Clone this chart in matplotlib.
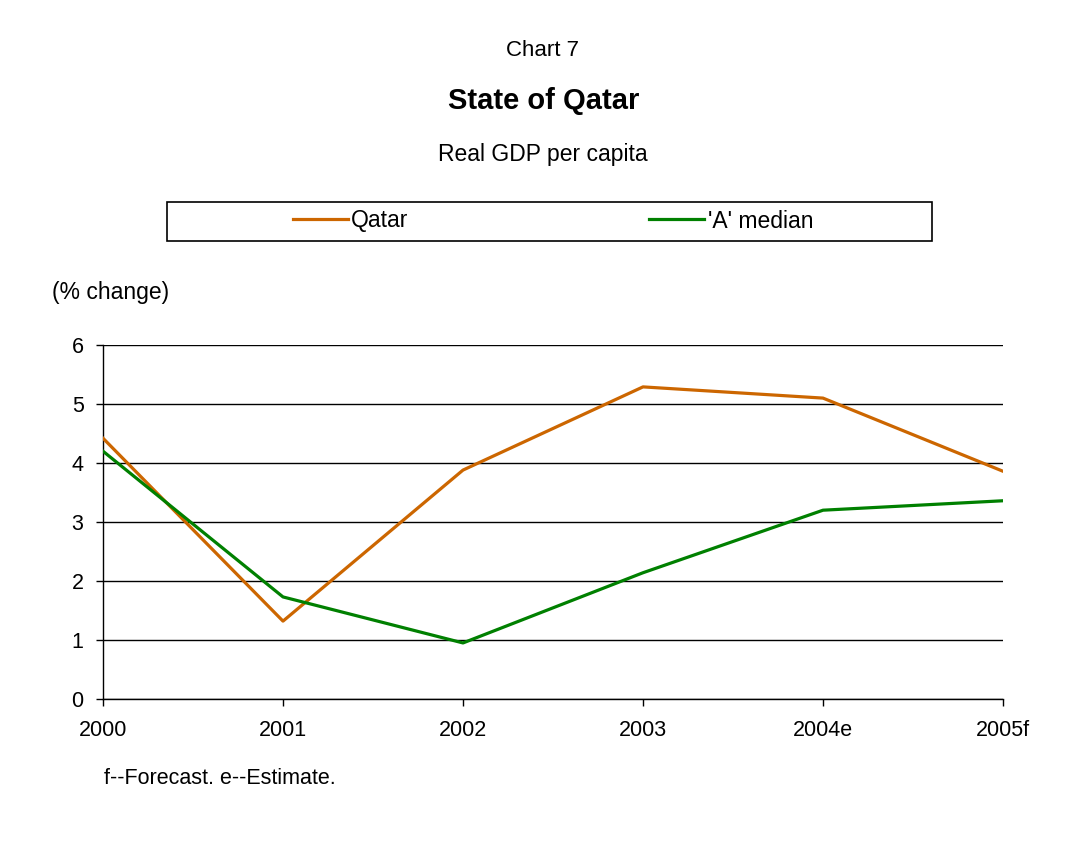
import matplotlib
matplotlib.use("Agg")
from matplotlib import pyplot
from matplotlib.patches import Rectangle

years = ["2000", "2001", "2002", "2003", "2004e", "2005f"]
qatar = [4.42, 1.32, 3.88, 5.29, 5.10, 3.86]
a_median = [4.20, 1.73, 0.95, 2.14, 3.20, 3.36]

orange = "#CC6600"
green = "#008000"

pyplot.rcParams["font.family"] = ["Liberation Sans", "DejaVu Sans"]

W, H = 1069, 850
fig = pyplot.figure(figsize=(W / 100, H / 100), dpi=100)
fig.patch.set_facecolor("white")

ax = fig.add_axes([103 / W, 1 - 699 / H, 900 / W, (699 - 345) / H])

x = list(range(len(years)))
l1, = ax.plot(x, qatar, color=orange, lw=2.3, label="Qatar", zorder=3)
l2, = ax.plot(x, a_median, color=green, lw=2.3, label="'A' median", zorder=3)

ax.set_xlim(0, len(years) - 1)
ax.set_ylim(0, 6)
ax.set_xticks(x)
ax.set_xticklabels(years)
ax.set_yticks(range(0, 7))
ax.grid(visible=True, axis="y", color="black", lw=1.0)
ax.grid(visible=False, axis="x")
ax.set_axisbelow(True)

for side in ("top", "right"):
    ax.spines[side].set_visible(False)
for side in ("left", "bottom"):
    ax.spines[side].set_linewidth(1.0)

ax.tick_params(axis="both", direction="out", length=5, width=1.0,
               labelsize=15.5, color="black")
ax.tick_params(axis="x", pad=10)
ax.tick_params(axis="y", pad=9)

fig.text(542 / W, 1 - 50 / H, "Chart 7", ha="center", va="center", fontsize=16)
fig.text(544 / W, 1 - 101 / H, "State of Qatar", ha="center", va="center",
         fontsize=21, fontweight="bold")
fig.text(543 / W, 1 - 155 / H, "Real GDP per capita", ha="center", va="center",
         fontsize=16.5)
fig.text(52 / W, 1 - 293 / H, "(% change)", ha="left", va="center", fontsize=16.5)
fig.text(104 / W, 1 - 778 / H, "f--Forecast. e--Estimate.", ha="left",
         va="center", fontsize=15.5)

# legend box drawn separately so its width is independent of the entries
fig.patches.append(Rectangle((167 / W, 1 - 241 / H), 765 / W, 39 / H,
                             transform=fig.transFigure, fill=False,
                             edgecolor="black", lw=1.2))
fig.legend(handles=[l1, l2], loc="center", bbox_to_anchor=(553 / W, 1 - 221 / H),
           ncol=2, frameon=False, fontsize=16.5, handlelength=2.4,
           handletextpad=0.15, columnspacing=10.5)

fig.savefig("out.png", dpi=100, facecolor="white")
